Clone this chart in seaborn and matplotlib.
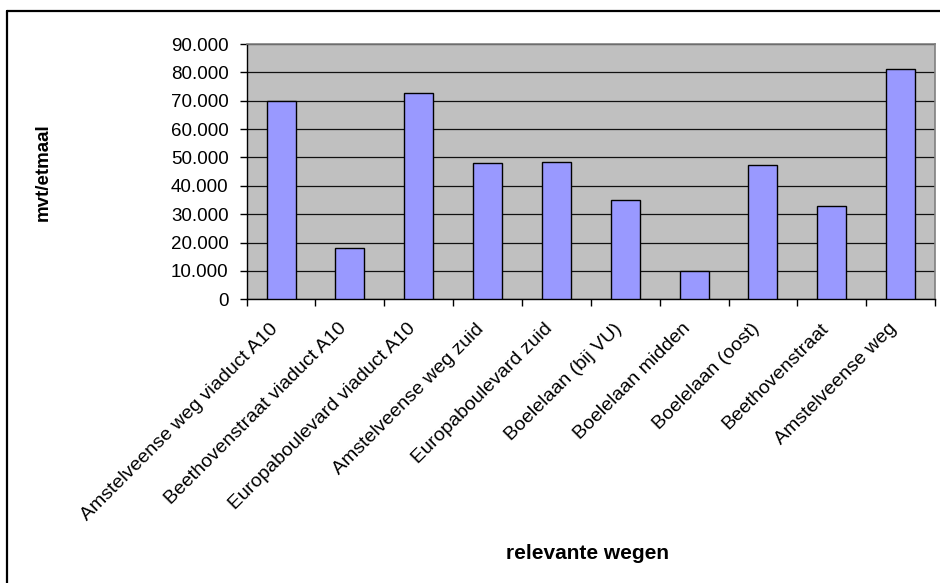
import matplotlib
matplotlib.use("Agg")
import matplotlib.pyplot as plt
from matplotlib.lines import Line2D
from matplotlib.ticker import FuncFormatter, MultipleLocator, FixedLocator, NullFormatter
import seaborn as sns
import pandas as pd

wegen = [
    "Amstelveense weg viaduct A10",
    "Beethovenstraat viaduct A10",
    "Europaboulevard viaduct A10",
    "Amstelveense weg zuid",
    "Europaboulevard zuid",
    "Boelelaan (bij VU)",
    "Boelelaan midden",
    "Boelelaan (oost)",
    "Beethovenstraat",
    "Amstelveense weg",
]
intensiteit = [70000, 18000, 72700, 48000, 48500, 35000, 9900, 47500, 32800, 81300]

df = pd.DataFrame({"weg": wegen, "mvt": intensiteit})

sns.set_theme(style="white")
plt.rcParams["font.family"] = ["Liberation Sans", "DejaVu Sans"]

fig = plt.figure(figsize=(9.4, 5.83), dpi=100)
ax = fig.add_axes([0.2624, 0.4866, 0.7323, 0.4379])
ax.set_facecolor("#C0C0C0")

sns.barplot(data=df, x="weg", y="mvt", color="#9999FF", saturation=1,
            width=0.42, edgecolor="black", linewidth=1.0, ax=ax, zorder=3)

ax.set_ylim(0, 90000)
ax.set_xlim(-0.5, len(wegen) - 0.5)
ax.yaxis.set_major_locator(MultipleLocator(10000))
ax.yaxis.set_major_formatter(
    FuncFormatter(lambda v, p: f"{int(round(v)):,}".replace(",", ".")))
ax.grid(axis="y", color="#111111", linewidth=0.9, zorder=1)
ax.set_axisbelow(True)

# category boundaries carry the x tick marks, labels sit at the centres
ax.xaxis.set_minor_locator(FixedLocator([i - 0.5 for i in range(len(wegen) + 1)]))
ax.xaxis.set_minor_formatter(NullFormatter())
ax.tick_params(axis="x", which="minor", length=5, width=1, color="black",
               direction="out", bottom=True)
ax.tick_params(axis="x", which="major", length=0, pad=15)
ax.tick_params(axis="y", which="major", length=5, width=1, color="black",
               direction="out", left=True, pad=8, labelsize=13.5, labelcolor="black")
for lbl in ax.get_xticklabels():
    lbl.set_rotation(45)
    lbl.set_ha("right")
    lbl.set_fontsize(14)
    lbl.set_color("black")
    lbl.set_x(lbl.get_position()[0])

for side in ("left", "bottom"):
    ax.spines[side].set_color("black")
    ax.spines[side].set_linewidth(1.0)
for side in ("top", "right"):
    ax.spines[side].set_color("#808080")
    ax.spines[side].set_linewidth(1.2)

ax.set_xlabel("relevante wegen", fontsize=15, fontweight="bold", color="black")
ax.set_ylabel("mvt/etmaal", fontsize=13.5, fontweight="bold", color="black")
ax.xaxis.set_label_coords(0.495, -0.994)
ax.xaxis.label.set_va("center")
ax.yaxis.set_label_coords(-0.296, 0.5)
ax.yaxis.label.set_va("center")

# chart frame (left and top edges)
fig.add_artist(Line2D([7 / 940, 7 / 940], [0, 1 - 11 / 583],
                      transform=fig.transFigure, color="black", linewidth=1.6))
fig.add_artist(Line2D([7 / 940, 1], [1 - 11 / 583, 1 - 11 / 583],
                      transform=fig.transFigure, color="black", linewidth=1.6))

fig.savefig("out.png", dpi=100)
